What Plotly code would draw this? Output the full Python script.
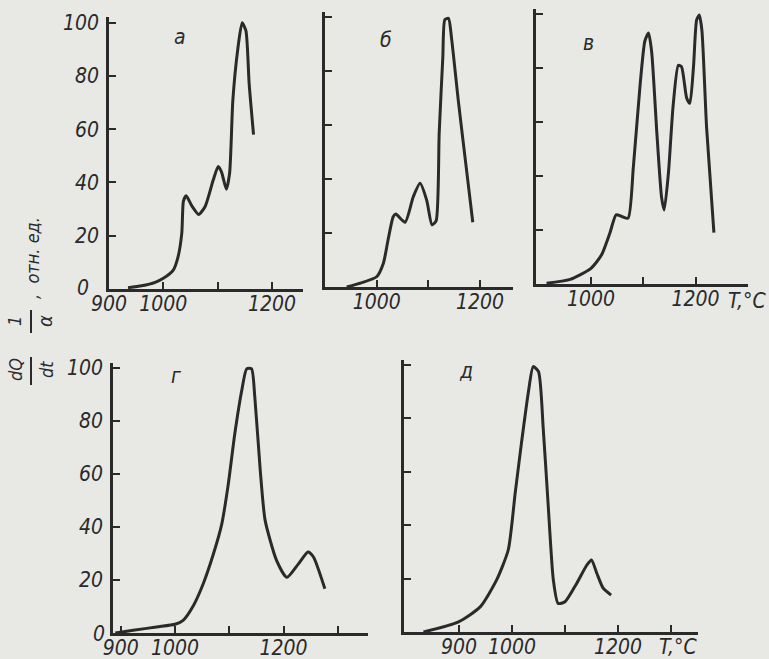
import plotly.graph_objects as go

W, H = 769, 659

# ---------------- data (T in °C, relative units) ----------------
T_a = [935, 960, 985, 1000, 1018, 1027, 1034, 1037, 1042, 1053, 1065, 1077, 1092, 1101, 1107, 1116, 1122, 1128, 1137, 1145, 1152, 1158, 1166]
V_a = [0.5, 1.2, 2.5, 4, 7, 12, 21, 33, 35, 31, 28, 31, 41, 46, 44, 37.5, 43.5, 71, 90, 100, 97, 77, 58]

T_b = [942, 970, 1000, 1013, 1022, 1032, 1037, 1055, 1071, 1084, 1097, 1107, 1115, 1121, 1128, 1132, 1139, 1145, 1158, 1171, 1186]
V_b = [0, 1.5, 3.8, 8.8, 17.4, 26, 27, 24, 33.5, 38.4, 32, 23, 24.5, 57, 85, 99, 99.5, 92, 69, 48, 24]

T_c = [915, 960, 1000, 1020, 1036, 1048, 1059, 1071, 1081, 1094, 1103, 1110, 1116, 1126, 1135, 1140, 1148, 1157, 1167, 1173, 1183, 1189, 1196, 1202, 1207, 1212, 1221, 1235]
V_c = [0.3, 1.7, 5.8, 10.7, 18.8, 25.6, 25, 24.4, 43.4, 74, 90, 93, 86, 55.7, 32, 27.4, 41, 66, 81, 80.5, 68.8, 66.9, 80.5, 97.8, 99.6, 94, 58, 19]

T_d = [890, 923, 966, 1000, 1015, 1034, 1052, 1071, 1086, 1098, 1110, 1123, 1132, 1141, 1147, 1157, 1166, 1187, 1206, 1227, 1245, 1255, 1276]
V_d = [0, 1, 2.3, 3.3, 4.8, 10.4, 18.6, 30, 41, 56, 75, 91.6, 99.7, 99.7, 89, 61.4, 42.5, 27.4, 21, 26, 30.6, 28.7, 16.7]

T_e = [833, 899, 940, 971, 993, 1006, 1018, 1031, 1040, 1050, 1059, 1068, 1078, 1087, 1100, 1122, 1141, 1150, 1160, 1172, 1187]
V_e = [0, 3.8, 9.4, 19.5, 30.8, 52, 71, 90, 99.4, 97.5, 76, 48.4, 19.5, 10.7, 11.3, 18.2, 25, 27, 22, 16.4, 13.8]

panel_letters = ["а", "б", "в", "г", "д"]
y_tickvals = [20, 40, 60, 80, 100]
y_ticktext = ["20", "40", "60", "80", "100"]

# ---------------- layout calibration (pixel geometry) ----------------
# (x ref value, x ref px, px per unit, x range, y0 px, px per unit)
geom = [
    (900, 109, 0.5433, [900, 1257], 289, 2.663),
    (900, 325, 0.5167, [900, 1264], 287, 2.70),
    (1000, 591, 0.523, [895, 1300], 284, 2.70),
    (1000, 175, 0.543, [886, 1355], 633, 2.65),
    (1000, 512, 0.530, [796, 1350], 632, 2.67),
]
YR = [0, 102]

x_ticks = [
    ([900, 1000, 1100, 1200], ["900", "1000", "", "1200"]),
    ([900, 1000, 1100, 1200], ["", "1000", "", "1200"]),
    ([1000, 1100, 1200, 1300], ["1000", "", "1200", ""]),
    ([900, 1000, 1100, 1200, 1300], ["900", "1000", "", "1200", ""]),
    ([900, 1000, 1100, 1200, 1300], ["900", "1000", "", "1200", ""]),
]

INK = "#2a2a2a"
BG = "#e8e8e5"
FONT = dict(family="DejaVu Sans Condensed, Liberation Sans Narrow, DejaVu Sans, sans-serif",
            size=21, color=INK, style="italic")

series = [(T_a, V_a), (T_b, V_b), (T_c, V_c), (T_d, V_d), (T_e, V_e)]

fig = go.Figure()
layout = dict(template="none", width=W, height=H, autosize=False,
              margin=dict(l=0, r=0, t=0, b=0, pad=0),
              paper_bgcolor=BG, plot_bgcolor=BG, showlegend=False, font=FONT)

annotations = []
shapes = []
for i, ((xv, xp, xs, xr, y0p, ys), (T, V)) in enumerate(zip(geom, series)):
    n = "" if i == 0 else str(i + 1)
    px0 = xp + (xr[0] - xv) * xs
    px1 = xp + (xr[1] - xv) * xs
    py0 = y0p - YR[0] * ys
    py1 = y0p - YR[1] * ys
    layout["xaxis" + n] = dict(
        domain=[px0 / W, px1 / W], range=xr, anchor="y" + n, automargin=False,
        showline=True, linecolor=INK, linewidth=2.5, ticks="inside", ticklen=7,
        tickwidth=2, tickcolor=INK, showgrid=False, zeroline=False,
        tickvals=x_ticks[i][0], ticktext=x_ticks[i][1], tickfont=FONT,
        ticklabelstandoff=-6)
    layout["yaxis" + n] = dict(
        domain=[1 - py0 / H, 1 - py1 / H], range=YR, anchor="x" + n, automargin=False,
        showline=True, linecolor=INK, linewidth=2.5, ticks="inside", ticklen=7,
        tickwidth=2, tickcolor=INK, showgrid=False, zeroline=False,
        tickvals=y_tickvals, ticktext=y_ticktext, tickfont=FONT,
        showticklabels=(i in (0, 3)), ticklabelstandoff=3)
    fig.add_trace(go.Scatter(x=T, y=V, mode="lines", xaxis="x" + n, yaxis="y" + n,
                             line=dict(color=INK, width=3, shape="spline", smoothing=0.6),
                             hoverinfo="skip"))


def note(text, x, y, size=21, angle=0):
    annotations.append(dict(text=text, x=x / W, y=1 - y / H, xref="paper", yref="paper",
                            xanchor="center", yanchor="middle", showarrow=False,
                            textangle=angle, font=dict(FONT, size=size)))


letter_pos = [(180, 37), (386, 40), (588, 43), (176, 376), (466, 371)]
for L, (x, y) in zip(panel_letters, letter_pos):
    note(L, x, y, 21)

# zero labels at corners
for (x, y) in [(83, 288), (99, 634)]:
    note("0", x, y, 21)

# T,°C labels
for (x, y) in [(747, 301), (678, 647)]:
    note("T,°C", x, y, 21)

# rotated axis title pieces
rot = [("1", 14, 321, 18), ("α", 45, 321, 20), (",  отн. ед.", 32, 258, 18),
       ("dQ", 15, 370, 18), ("dt", 46, 370, 18)]
for t, x, y, s in rot:
    note(t, x, y, s, -90)
for (x, ya, yb) in [(31, 310, 333), (31, 357, 385)]:
    shapes.append(dict(type="line", xref="paper", yref="paper", x0=x / W, x1=x / W,
                       y0=1 - ya / H, y1=1 - yb / H, line=dict(color=INK, width=2)))

layout["annotations"] = annotations
layout["shapes"] = shapes
fig.update_layout(**layout)
fig.write_html("out.html", config={"responsive": False, "displayModeBar": False},
               post_script="document.body.style.margin='0';document.body.style.overflow='hidden';")
